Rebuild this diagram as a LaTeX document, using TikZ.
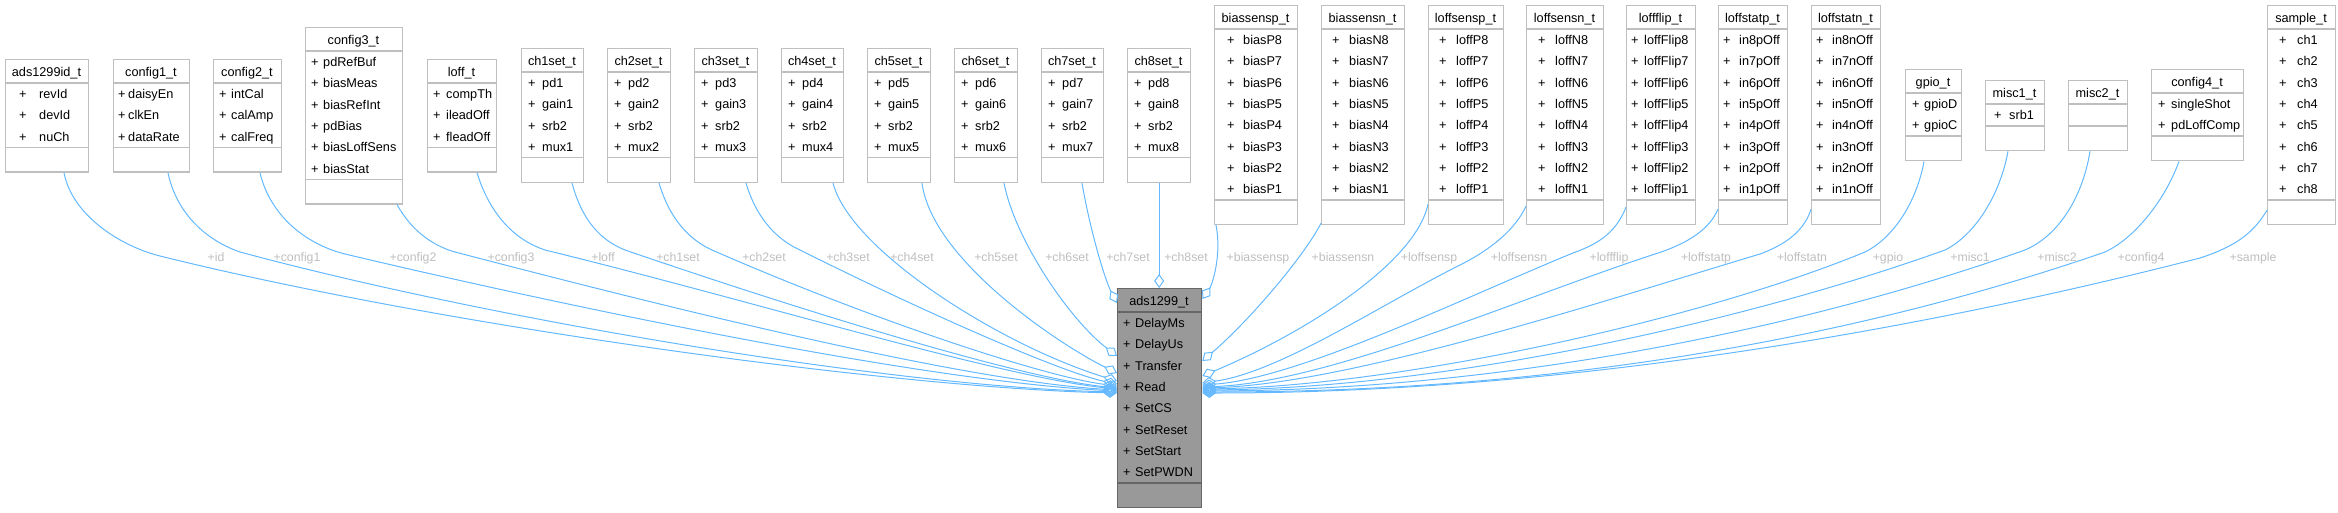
\documentclass[tikz,border=0pt]{standalone}
\usepackage{fontspec}
\setmainfont{Liberation Sans}
\usetikzlibrary{arrows.meta,calc}
\definecolor{edgec}{HTML}{63B8FF}
\definecolor{boxc}{HTML}{BFBFBF}
\definecolor{mainfill}{HTML}{999999}
\definecolor{mainline}{HTML}{666666}
\definecolor{lblc}{HTML}{BEBEBE}
\tikzset{
 clsbox/.style={draw=boxc, fill=white, line width=1.3pt, inner sep=0pt},
 clsline/.style={draw=boxc, line width=1.3pt},
 txt/.style={inner sep=0pt, font=\fontsize{12.7}{14}\selectfont, text=black},
 lbl/.style={inner sep=0pt, font=\fontsize{12.3}{14}\selectfont, text=lblc, anchor=base},
 conn/.style={draw=edgec, line width=1pt, -{Diamond[open,length=14pt,width=10pt]}},
}
% #1 id, #2 x, #3 top, #4 width, #5 plus offset, #6 name offset, #7 title, #8 rows, #9 list
\newcommand\umlcls[9]{%
  \pgfmathsetmacro\attrh{max(22,21.3*#8+0.5)}%
  \pgfmathsetmacro\toth{48+\attrh}%
  \node[clsbox, minimum width=#4pt, minimum height=\toth pt, anchor=north west] (#1) at (#2,#3) {};
  \draw[clsline] (#2,#3+24) -- ++(#4,0);
  \draw[clsline] (#2,#3+24+\attrh) -- ++(#4,0);
  \node[txt, anchor=base] (#1-t) at (#2+#4/2,#3+17.5) {#7};
  \ifnum#8>0\relax
  \foreach \attr [count=\idx from 0] in {#9} {
    \node[txt, anchor=base west] (#1-p\idx) at (#2+#5, #3+39.5+21.3*\idx) {+};
    \node[txt, anchor=base west] (#1-a\idx) at (#2+#6, #3+39.5+21.3*\idx) {\attr};
  }%
  \fi
}
\begin{document}
\begin{tikzpicture}[x=1pt,y=-1pt]
\useasboundingbox (0,0) rectangle (2338,512);

\umlcls{id}{5}{59}{83}{14}{34}{ads1299id\_t}{3}{revId,devId,nuCh}
\umlcls{cfga}{113}{59}{76}{5}{15}{config1\_t}{3}{daisyEn,clkEn,dataRate}
\umlcls{cfgb}{213}{59}{68}{6}{18}{config2\_t}{3}{intCal,calAmp,calFreq}
\umlcls{cfgc}{305}{27}{97}{6}{18}{config3\_t}{6}{pdRefBuf,biasMeas,biasRefInt,pdBias,biasLoffSens,biasStat}
\umlcls{loff}{427}{59}{69}{6}{19}{loff\_t}{3}{compTh,ileadOff,fleadOff}
\umlcls{cha}{521}{48}{62}{7}{21}{ch1set\_t}{4}{pd1,gain1,srb2,mux1}
\umlcls{chb}{607}{48}{63}{7}{21}{ch2set\_t}{4}{pd2,gain2,srb2,mux2}
\umlcls{chc}{694}{48}{63}{7}{21}{ch3set\_t}{4}{pd3,gain3,srb2,mux3}
\umlcls{chd}{781}{48}{62}{7}{21}{ch4set\_t}{4}{pd4,gain4,srb2,mux4}
\umlcls{che}{867}{48}{63}{7}{21}{ch5set\_t}{4}{pd5,gain5,srb2,mux5}
\umlcls{chf}{954}{48}{63}{7}{21}{ch6set\_t}{4}{pd6,gain6,srb2,mux6}
\umlcls{chg}{1041}{48}{62}{7}{21}{ch7set\_t}{4}{pd7,gain7,srb2,mux7}
\umlcls{chh}{1127}{48}{63}{7}{21}{ch8set\_t}{4}{pd8,gain8,srb2,mux8}
\umlcls{bsp}{1214}{5}{83}{13}{29}{biassensp\_t}{8}{biasP8,biasP7,biasP6,biasP5,biasP4,biasP3,biasP2,biasP1}
\umlcls{bsn}{1321}{5}{83}{11}{28}{biassensn\_t}{8}{biasN8,biasN7,biasN6,biasN5,biasN4,biasN3,biasN2,biasN1}
\umlcls{lsp}{1428}{5}{75}{11}{28}{loffsensp\_t}{8}{loffP8,loffP7,loffP6,loffP5,loffP4,loffP3,loffP2,loffP1}
\umlcls{lsn}{1526}{5}{77}{12}{29}{loffsensn\_t}{8}{loffN8,loffN7,loffN6,loffN5,loffN4,loffN3,loffN2,loffN1}
\umlcls{lfl}{1626}{5}{69}{5}{18}{loffflip\_t}{8}{loffFlip8,loffFlip7,loffFlip6,loffFlip5,loffFlip4,loffFlip3,loffFlip2,loffFlip1}
\umlcls{lstp}{1718}{5}{69}{5}{21}{loffstatp\_t}{8}{in8pOff,in7pOff,in6pOff,in5pOff,in4pOff,in3pOff,in2pOff,in1pOff}
\umlcls{lstn}{1811}{5}{69}{5}{21}{loffstatn\_t}{8}{in8nOff,in7nOff,in6nOff,in5nOff,in4nOff,in3nOff,in2nOff,in1nOff}
\umlcls{gpio}{1905}{69}{56}{7}{19}{gpio\_t}{2}{gpioD,gpioC}
\umlcls{misa}{1985}{80}{59}{9}{24}{misc1\_t}{1}{srb1}
\umlcls{misb}{2068}{80}{59}{9}{24}{misc2\_t}{0}{}
\umlcls{cfgd}{2151}{69}{92}{7}{20}{config4\_t}{2}{singleShot,pdLoffComp}
\umlcls{smp}{2267}{5}{68}{12}{30}{sample\_t}{8}{ch1,ch2,ch3,ch4,ch5,ch6,ch7,ch8}

\begin{scope}[clsbox/.style={draw=mainline, fill=mainfill, line width=1.3pt, inner sep=0pt},
              clsline/.style={draw=mainline, line width=1.3pt}]
\umlcls{main}{1117}{288}{84}{6}{18}{ads1299\_t}{8}{DelayMs,DelayUs,Transfer,Read,SetCS,SetReset,SetStart,SetPWDN}
\end{scope}

% left connectors
\draw[conn] ($(id.south west)+(59,0)$) .. controls (72,215) and (120,246) .. (160,256) .. controls (450,328) and (900,388) .. ($(main.north west)+(0,105)$);
\draw[conn] ($(cfga.south west)+(55,0)$) .. controls (176,212) and (205,240) .. (240,252) .. controls (500,322) and (900,387) .. ($(main.north west)+(0,104)$);
\draw[conn] ($(cfgb.south west)+(47,0)$) .. controls (270,215) and (305,244) .. (345,254) .. controls (560,305) and (920,381) .. ($(main.north west)+(0,103)$);
\draw[conn] ($(cfgc.south west)+(92,0)$) .. controls (410,228) and (430,245) .. (455,252) .. controls (620,295) and (950,380) .. ($(main.north west)+(0,102)$);
\draw[conn] ($(loff.south west)+(50,0)$) .. controls (490,215) and (515,240) .. (545,250) .. controls (750,300) and (1000,377) .. ($(main.north west)+(0,101)$);
\draw[conn] ($(cha.south west)+(51,0)$) .. controls (582,220) and (600,240) .. (625,250) .. controls (800,310) and (1020,378) .. ($(main.north west)+(0,100)$);
\draw[conn] ($(chb.south west)+(52,0)$) .. controls (670,220) and (690,240) .. (712,250) .. controls (860,315) and (1040,376) .. ($(main.north west)+(0,98)$);
\draw[conn] ($(chc.south west)+(52,0)$) .. controls (757,220) and (778,240) .. (800,250) .. controls (920,310) and (1060,372) .. ($(main.north west)+(0,96)$);
\draw[conn] ($(chd.south west)+(52,0)$) .. controls (850,250) and (1000,345) .. ($(main.north west)+(0,93)$);
\draw[conn] ($(che.south west)+(55,0)$) .. controls (932,260) and (1060,345) .. ($(main.north west)+(0,85)$);
\draw[conn] ($(chf.south west)+(50,0)$) .. controls (1015,240) and (1070,320) .. ($(main.north west)+(0,68)$);
\draw[conn] ($(chg.south west)+(41,0)$) .. controls (1090,230) and (1105,280) .. ($(main.north west)+(0,15)$);
\draw[conn] (chh.south) -- (chh.south |- main.north);
% right connectors
\draw[conn] ($(bsp.south west)+(2,0)$) .. controls (1222,255) and (1212,285) .. ($(main.north east)+(0,11)$);
\draw[conn] ($(bsn.south west)+(0,-2)$) .. controls (1305,255) and (1250,320) .. ($(main.north east)+(0,73)$);
\draw[conn] ($(lsp.south west)+(0,-21)$) .. controls (1415,265) and (1300,335) .. ($(main.north east)+(0,88)$);
\draw[conn] ($(lsn.south west)+(0,-19)$) .. controls (1515,230) and (1490,250) .. (1460,265) .. controls (1380,305) and (1280,372) .. ($(main.north east)+(0,95)$);
\draw[conn] ($(lfl.south west)+(0,-18)$) .. controls (1615,235) and (1595,245) .. (1573,253) .. controls (1470,295) and (1300,378) .. ($(main.north east)+(0,97)$);
\draw[conn] ($(lstp.south west)+(0,-16)$) .. controls (1710,228) and (1690,243) .. (1655,254) .. controls (1520,298) and (1330,382) .. ($(main.north east)+(0,99)$);
\draw[conn] ($(lstn.south west)+(0,-16)$) .. controls (1805,228) and (1790,243) .. (1760,254) .. controls (1600,302) and (1350,384) .. ($(main.north east)+(0,100)$);
\draw[conn] ($(gpio.south west)+(19,0)$) .. controls (1917,200) and (1895,237) .. (1865,252) .. controls (1700,320) and (1400,386) .. ($(main.north east)+(0,101)$);
\draw[conn] ($(misa.south west)+(23,0)$) .. controls (2000,195) and (1975,235) .. (1945,250) .. controls (1750,320) and (1450,388) .. ($(main.north east)+(0,102)$);
\draw[conn] ($(misb.south west)+(22,0)$) .. controls (2083,195) and (2060,235) .. (2025,250) .. controls (1800,330) and (1500,390) .. ($(main.north east)+(0,103)$);
\draw[conn] ($(cfgd.south west)+(28,0)$) .. controls (2165,200) and (2135,238) .. (2105,252) .. controls (1850,340) and (1550,392) .. ($(main.north east)+(0,104)$);
\draw[conn] ($(smp.south west)+(0,-15)$) .. controls (2255,230) and (2240,245) .. (2200,258) .. controls (1900,335) and (1550,393) .. ($(main.north east)+(0,105)$);

% labels
\node[lbl] (l1) at (216,261) {+id};
\node[lbl] (l2) at (297,261) {+config1};
\node[lbl] (l3) at (413,261) {+config2};
\node[lbl] (l4) at (511,261) {+config3};
\node[lbl] (l5) at (603,261) {+loff};
\node[lbl] (l6) at (678,261) {+ch1set};
\node[lbl] (l7) at (764,261) {+ch2set};
\node[lbl] (l8) at (848,261) {+ch3set};
\node[lbl] (l9) at (912,261) {+ch4set};
\node[lbl] (l10) at (996,261) {+ch5set};
\node[lbl] (l11) at (1067,261) {+ch6set};
\node[lbl] (l12) at (1128,261) {+ch7set};
\node[lbl] (l13) at (1186,261) {+ch8set};
\node[lbl] (l14) at (1258,261) {+biassensp};
\node[lbl] (l15) at (1343,261) {+biassensn};
\node[lbl] (l16) at (1429,261) {+loffsensp};
\node[lbl] (l17) at (1519,261) {+loffsensn};
\node[lbl] (l18) at (1609,261) {+loffflip};
\node[lbl] (l19) at (1706,261) {+loffstatp};
\node[lbl] (l20) at (1802,261) {+loffstatn};
\node[lbl] (l21) at (1888,261) {+gpio};
\node[lbl] (l22) at (1970,261) {+misc1};
\node[lbl] (l23) at (2057,261) {+misc2};
\node[lbl] (l24) at (2141,261) {+config4};
\node[lbl] (l25) at (2253,261) {+sample};
\end{tikzpicture}
\end{document}
